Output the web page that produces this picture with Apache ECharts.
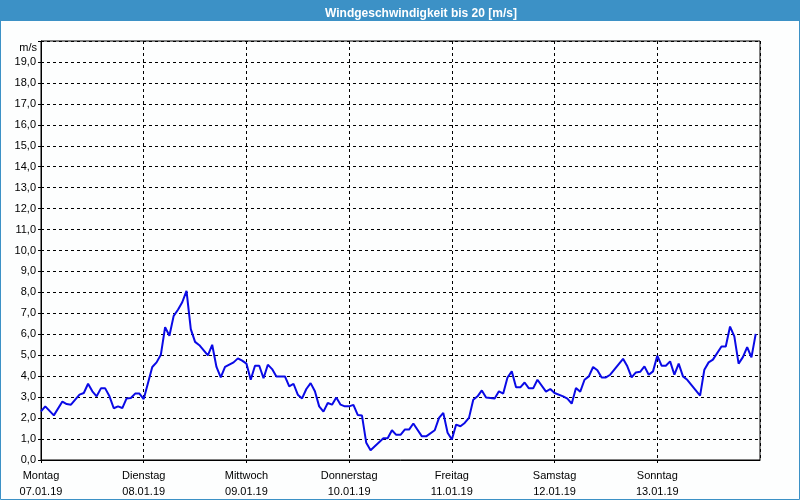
<!DOCTYPE html>
<html>
<head>
<meta charset="utf-8">
<script src="https://cdn.jsdelivr.net/npm/echarts@6/dist/echarts.min.js"></script>
<style>
html,body{margin:0;padding:0;background:#fdfefe;}
#c{width:800px;height:500px;}
</style>
</head>
<body>
<div id="c"></div>
<script>
var chartTitle = 'Windgeschwindigkeit bis 20 [m/s]';
var dayNames = ['Montag','Dienstag','Mittwoch','Donnerstag','Freitag','Samstag','Sonntag'];
var dayDates = ['07.01.19','08.01.19','09.01.19','10.01.19','11.01.19','12.01.19','13.01.19'];
var yUnit = 'm/s';
// hours since Montag 00:00
var hours = [0,1,3,5,6,7,9,10,11,12,13,14,15,16,17,18,19,20,21,22,23,24,26,27,28,29,30,31,32,33,34,35,36,37,39,40,41,42,43,45,46,47,48,49,50,51,52,53,54,55,57,58,59,60,61,62,63,64,65,66,67,68,69,70,71,72,73,74,75,76,77,80,81,82,83,84,85,86,87,89,90,92,93,94,95,96,97,98,99,100,101,102,103,104,106,107,108,109,110,111,112,113,114,115,116,118,119,120,122,123,124,125,126,127,128,129,130,131,132,133,136,137,138,139,140,141,142,143,144,145,146,147,148,149,150,151,154,155,156,157,159,160,161,162,163,164,165,166,167];
var speeds = [2.32,2.56,2.13,2.79,2.67,2.64,3.12,3.2,3.64,3.28,3.04,3.42,3.42,3.04,2.47,2.56,2.48,2.94,2.96,3.17,3.17,2.91,4.44,4.66,5.02,6.34,5.93,6.88,7.17,7.53,8.07,6.25,5.64,5.48,4.99,5.5,4.44,3.94,4.44,4.66,4.85,4.74,4.6,3.83,4.5,4.5,3.9,4.55,4.34,3.99,3.99,3.51,3.64,3.12,2.94,3.39,3.67,3.28,2.56,2.31,2.72,2.64,2.98,2.64,2.56,2.56,2.63,2.15,2.12,0.82,0.47,1.04,1.04,1.42,1.2,1.2,1.45,1.45,1.74,1.13,1.13,1.42,2.01,2.25,1.3,0.98,1.69,1.61,1.77,2.01,2.88,3.04,3.32,2.98,2.94,3.28,3.17,3.94,4.23,3.47,3.47,3.7,3.42,3.42,3.83,3.26,3.39,3.2,3.04,2.93,2.69,3.44,3.26,3.83,3.99,4.44,4.28,3.94,3.94,4.07,4.83,4.47,3.94,4.18,4.21,4.47,4.07,4.23,4.98,4.5,4.5,4.71,4.07,4.6,3.99,3.83,3.07,4.31,4.66,4.79,5.42,5.42,6.37,5.9,4.6,4.91,5.39,4.9,6.02];

var seriesData = hours.map(function(h, i){ return [h, speeds[i]]; });
var font = 'Liberation Sans, Arial, sans-serif';

var chart = echarts.init(document.getElementById('c'), null, {renderer:'canvas'});
chart.setOption({
  backgroundColor: '#fdfefe',
  animation: false,
  title: {
    text: chartTitle,
    left: 416, top: 3, textAlign: 'center',
    textStyle: {color:'#ffffff', fontSize: 12, fontWeight: 'bold', fontFamily: font}
  },
  graphic: [
    {type:'rect', z: -1, shape:{x:0,y:0,width:800,height:21}, style:{fill:'#3c91c6'}},
    {type:'rect', z: 100, shape:{x:0.5,y:0.5,width:799,height:499}, style:{fill:'none', stroke:'#3c91c6', lineWidth:1}}
  ],
  grid: {left:41, right:40, top:41, bottom:40, show:true, borderColor:'#000', borderWidth:1, backgroundColor:'transparent'},
  xAxis: {
    type:'value', min:0, max:168, interval:24,
    axisLine:{show:true, lineStyle:{color:'#000', width:1}},
    axisTick:{show:true, length:3, lineStyle:{color:'#000'}},
    splitLine:{show:true, lineStyle:{color:'#000', type:[3,3], width:1}},
    axisLabel:{
      margin: 8, color:'#000', fontSize:11, fontFamily: font, lineHeight: 16,
      showMaxLabel: false,
      formatter: function(v){ var i = Math.round(v/24); return i < dayNames.length ? dayNames[i] + '\n' + dayDates[i] : ''; }
    }
  },
  yAxis: {
    type:'value', min:0, max:20, interval:1,
    name: yUnit, nameLocation:'end', nameGap: -12,
    nameTextStyle:{color:'#000', fontSize:11, fontFamily: font, align:'right', padding:[0,4,0,0]},
    axisLine:{show:true, lineStyle:{color:'#000', width:1}},
    axisTick:{show:true, length:3, lineStyle:{color:'#000'}},
    splitLine:{show:true, lineStyle:{color:'#000', type:[3,3], width:1}},
    axisLabel:{
      margin: 5, color:'#000', fontSize:11, fontFamily: font,
      formatter: function(v){ return v >= 20 ? '' : v.toFixed(1).replace('.', ','); }
    }
  },
  series: [{
    type:'line', data: seriesData, showSymbol:false, symbol:'none',
    lineStyle:{color:'#0a0ae6', width:2}, itemStyle:{color:'#0a0ae6'}
  }]
});
</script>
</body>
</html>
